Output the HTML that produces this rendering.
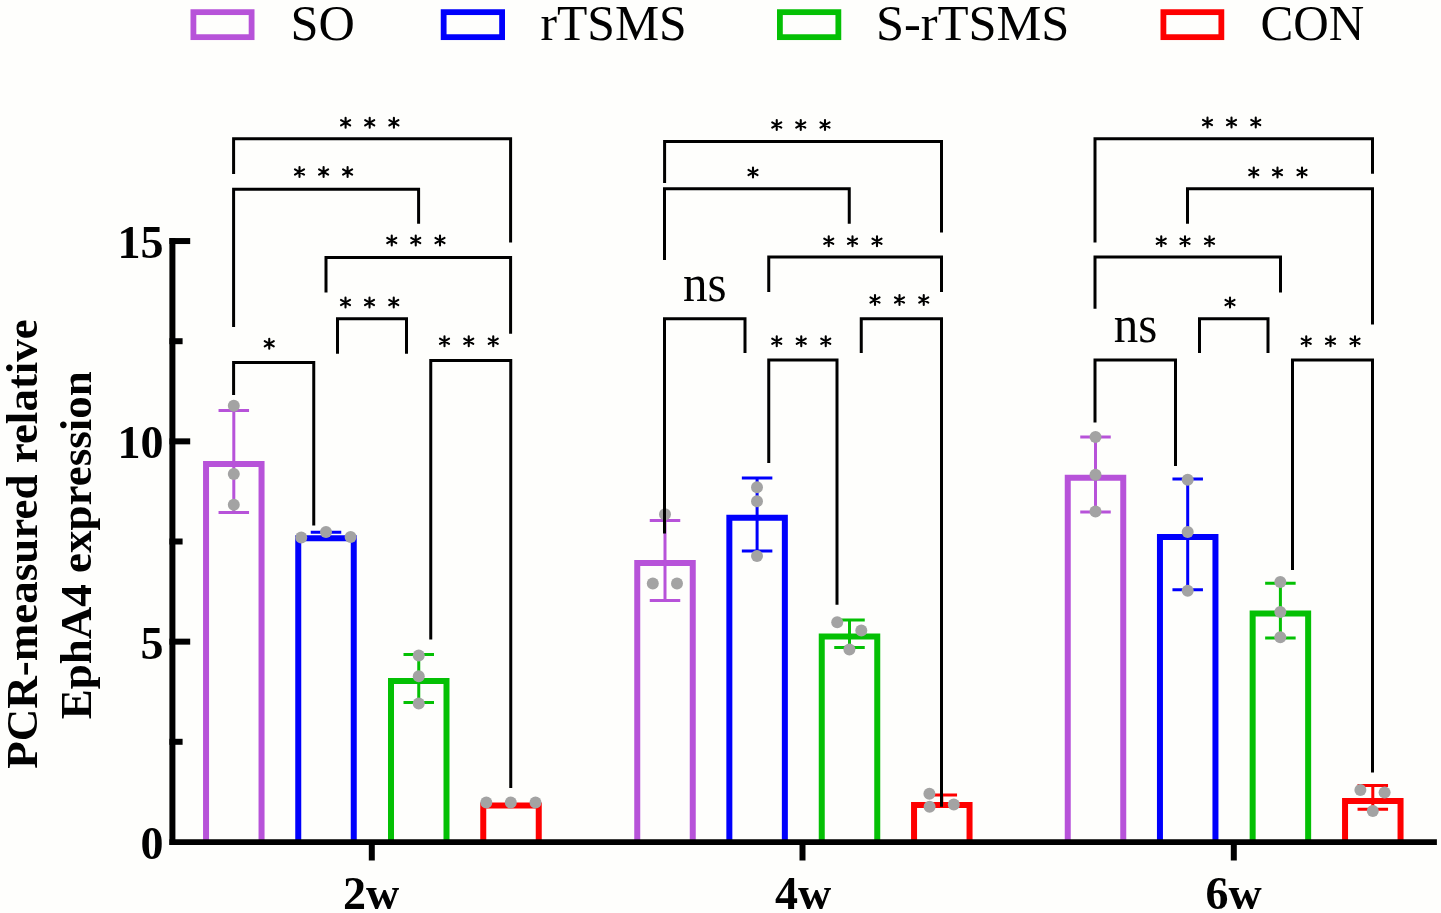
<!DOCTYPE html>
<html><head><meta charset="utf-8"><title>EphA4 expression chart</title>
<style>
html,body{margin:0;padding:0;background:#FEFEFC;}
body{width:1441px;height:913px;overflow:hidden;}
svg{display:block;}
text{font-family:"Liberation Serif",serif;fill:#000;}
</style></head>
<body>
<svg width="1441" height="913" viewBox="0 0 1441 913">
<rect x="0" y="0" width="1441" height="913" fill="#FEFEFC"/>
<g id="legend">
<rect x="193.40" y="12.15" width="58.20" height="25.0" fill="none" stroke="#B753D9" stroke-width="5.8"/>
<rect x="443.65" y="12.15" width="58.45" height="25.0" fill="none" stroke="#0000FC" stroke-width="5.8"/>
<rect x="779.90" y="12.15" width="58.45" height="25.0" fill="none" stroke="#04C004" stroke-width="5.8"/>
<rect x="1163.40" y="12.15" width="57.95" height="25.0" fill="none" stroke="#FE0000" stroke-width="5.8"/>
</g>
<g id="bars">
<path d="M206.05,842 V463.90 H261.55 V842" fill="none" stroke="#B753D9" stroke-width="6" stroke-linejoin="miter"/>
<path d="M298.25,842 V538.30 H353.75 V842" fill="none" stroke="#0000FC" stroke-width="6" stroke-linejoin="miter"/>
<path d="M391.00,842 V681.00 H446.50 V842" fill="none" stroke="#04C004" stroke-width="6" stroke-linejoin="miter"/>
<path d="M483.25,842 V805.50 H538.75 V842" fill="none" stroke="#FE0000" stroke-width="6" stroke-linejoin="miter"/>
<path d="M637.25,842 V563.10 H692.75 V842" fill="none" stroke="#B753D9" stroke-width="6" stroke-linejoin="miter"/>
<path d="M729.35,842 V517.70 H784.85 V842" fill="none" stroke="#0000FC" stroke-width="6" stroke-linejoin="miter"/>
<path d="M821.75,842 V636.40 H877.25 V842" fill="none" stroke="#04C004" stroke-width="6" stroke-linejoin="miter"/>
<path d="M914.05,842 V805.00 H969.55 V842" fill="none" stroke="#FE0000" stroke-width="6" stroke-linejoin="miter"/>
<path d="M1067.75,842 V477.80 H1123.25 V842" fill="none" stroke="#B753D9" stroke-width="6" stroke-linejoin="miter"/>
<path d="M1159.95,842 V537.00 H1215.45 V842" fill="none" stroke="#0000FC" stroke-width="6" stroke-linejoin="miter"/>
<path d="M1252.65,842 V613.40 H1308.15 V842" fill="none" stroke="#04C004" stroke-width="6" stroke-linejoin="miter"/>
<path d="M1345.05,842 V800.95 H1400.55 V842" fill="none" stroke="#FE0000" stroke-width="6" stroke-linejoin="miter"/>
</g>
<g id="errors">
<path d="M233.80,410.50 V512.50 M218.55,410.50 H249.05 M218.55,512.50 H249.05" fill="none" stroke="#B753D9" stroke-width="3"/>
<path d="M326.00,532.30 V539.50 M310.75,532.30 H341.25 M310.75,539.50 H341.25" fill="none" stroke="#0000FC" stroke-width="3"/>
<path d="M418.75,654.40 V702.50 M403.50,654.40 H434.00 M403.50,702.50 H434.00" fill="none" stroke="#04C004" stroke-width="3"/>
<path d="M665.00,520.50 V600.60 M649.75,520.50 H680.25 M649.75,600.60 H680.25" fill="none" stroke="#B753D9" stroke-width="3"/>
<path d="M757.10,478.00 V551.10 M741.85,478.00 H772.35 M741.85,551.10 H772.35" fill="none" stroke="#0000FC" stroke-width="3"/>
<path d="M849.50,620.10 V647.60 M834.25,620.10 H864.75 M834.25,647.60 H864.75" fill="none" stroke="#04C004" stroke-width="3"/>
<path d="M941.80,795.00 V805.00 M926.55,795.00 H957.05 M926.55,805.00 H957.05" fill="none" stroke="#FE0000" stroke-width="3"/>
<path d="M1095.50,437.10 V512.00 M1080.25,437.10 H1110.75 M1080.25,512.00 H1110.75" fill="none" stroke="#B753D9" stroke-width="3"/>
<path d="M1187.70,479.10 V589.70 M1172.45,479.10 H1202.95 M1172.45,589.70 H1202.95" fill="none" stroke="#0000FC" stroke-width="3"/>
<path d="M1280.40,583.30 V638.10 M1265.15,583.30 H1295.65 M1265.15,638.10 H1295.65" fill="none" stroke="#04C004" stroke-width="3"/>
<path d="M1372.80,785.60 V809.30 M1357.55,785.60 H1388.05 M1357.55,809.30 H1388.05" fill="none" stroke="#FE0000" stroke-width="3"/>
</g>
<g id="dots">
<circle cx="233.80" cy="405.80" r="6.0" fill="#A3A3A3"/>
<circle cx="233.80" cy="474.10" r="6.0" fill="#A3A3A3"/>
<circle cx="233.80" cy="504.80" r="6.0" fill="#A3A3A3"/>
<circle cx="301.25" cy="537.50" r="6.0" fill="#A3A3A3"/>
<circle cx="326.00" cy="531.90" r="6.0" fill="#A3A3A3"/>
<circle cx="350.60" cy="536.90" r="6.0" fill="#A3A3A3"/>
<circle cx="418.75" cy="655.60" r="6.0" fill="#A3A3A3"/>
<circle cx="418.75" cy="676.25" r="6.0" fill="#A3A3A3"/>
<circle cx="418.75" cy="703.50" r="6.0" fill="#A3A3A3"/>
<circle cx="486.30" cy="802.40" r="6.0" fill="#A3A3A3"/>
<circle cx="510.80" cy="802.40" r="6.0" fill="#A3A3A3"/>
<circle cx="535.50" cy="802.40" r="6.0" fill="#A3A3A3"/>
<circle cx="665.00" cy="514.30" r="6.0" fill="#A3A3A3"/>
<circle cx="652.80" cy="583.60" r="6.0" fill="#A3A3A3"/>
<circle cx="677.00" cy="583.60" r="6.0" fill="#A3A3A3"/>
<circle cx="757.00" cy="487.20" r="6.0" fill="#A3A3A3"/>
<circle cx="757.00" cy="501.20" r="6.0" fill="#A3A3A3"/>
<circle cx="757.00" cy="556.00" r="6.0" fill="#A3A3A3"/>
<circle cx="837.20" cy="622.20" r="6.0" fill="#A3A3A3"/>
<circle cx="861.30" cy="630.60" r="6.0" fill="#A3A3A3"/>
<circle cx="849.40" cy="649.40" r="6.0" fill="#A3A3A3"/>
<circle cx="929.40" cy="793.80" r="6.0" fill="#A3A3A3"/>
<circle cx="929.60" cy="806.80" r="6.0" fill="#A3A3A3"/>
<circle cx="953.80" cy="804.60" r="6.0" fill="#A3A3A3"/>
<circle cx="1095.50" cy="437.10" r="6.0" fill="#A3A3A3"/>
<circle cx="1095.50" cy="474.70" r="6.0" fill="#A3A3A3"/>
<circle cx="1095.50" cy="511.50" r="6.0" fill="#A3A3A3"/>
<circle cx="1187.70" cy="479.80" r="6.0" fill="#A3A3A3"/>
<circle cx="1187.70" cy="532.10" r="6.0" fill="#A3A3A3"/>
<circle cx="1187.70" cy="590.80" r="6.0" fill="#A3A3A3"/>
<circle cx="1280.30" cy="582.10" r="6.0" fill="#A3A3A3"/>
<circle cx="1280.30" cy="611.90" r="6.0" fill="#A3A3A3"/>
<circle cx="1280.30" cy="637.30" r="6.0" fill="#A3A3A3"/>
<circle cx="1360.40" cy="790.10" r="6.0" fill="#A3A3A3"/>
<circle cx="1384.60" cy="792.50" r="6.0" fill="#A3A3A3"/>
<circle cx="1372.80" cy="811.10" r="6.0" fill="#A3A3A3"/>
</g>
<g id="axes">
<line x1="172.40" y1="238.00" x2="172.40" y2="845.10" stroke="#000" stroke-width="6" stroke-linecap="butt"/>
<line x1="169.40" y1="641.65" x2="190.20" y2="641.65" stroke="#000" stroke-width="6" stroke-linecap="butt"/>
<line x1="169.40" y1="441.35" x2="190.20" y2="441.35" stroke="#000" stroke-width="6" stroke-linecap="butt"/>
<line x1="169.40" y1="241.05" x2="190.20" y2="241.05" stroke="#000" stroke-width="6" stroke-linecap="butt"/>
<line x1="169.40" y1="741.80" x2="182.60" y2="741.80" stroke="#000" stroke-width="6" stroke-linecap="butt"/>
<line x1="169.40" y1="541.50" x2="182.60" y2="541.50" stroke="#000" stroke-width="6" stroke-linecap="butt"/>
<line x1="169.40" y1="341.20" x2="182.60" y2="341.20" stroke="#000" stroke-width="6" stroke-linecap="butt"/>
<line x1="169.40" y1="842.20" x2="1436.90" y2="842.20" stroke="#000" stroke-width="5.8" stroke-linecap="butt"/>
<line x1="371.80" y1="842.20" x2="371.80" y2="860.50" stroke="#000" stroke-width="6" stroke-linecap="butt"/>
<line x1="802.50" y1="842.20" x2="802.50" y2="860.50" stroke="#000" stroke-width="6" stroke-linecap="butt"/>
<line x1="1233.80" y1="842.20" x2="1233.80" y2="860.50" stroke="#000" stroke-width="6" stroke-linecap="butt"/>
</g>
<g id="brackets">
<path d="M233.60,174.00 V138.75 H510.60 V242.50" fill="none" stroke="#000" stroke-width="3" stroke-linejoin="miter"/>
<path d="M233.60,327.00 V189.25 H418.60 V223.75" fill="none" stroke="#000" stroke-width="3" stroke-linejoin="miter"/>
<path d="M326.00,292.50 V257.50 H510.60 V333.75" fill="none" stroke="#000" stroke-width="3" stroke-linejoin="miter"/>
<path d="M337.50,353.75 V318.75 H406.50 V353.75" fill="none" stroke="#000" stroke-width="3" stroke-linejoin="miter"/>
<path d="M233.60,395.00 V362.50 H313.75 V525.60" fill="none" stroke="#000" stroke-width="3" stroke-linejoin="miter"/>
<path d="M430.75,639.40 V360.50 H510.75 V788.00" fill="none" stroke="#000" stroke-width="3" stroke-linejoin="miter"/>
<path d="M664.60,182.90 V141.60 H941.50 V232.50" fill="none" stroke="#000" stroke-width="3" stroke-linejoin="miter"/>
<path d="M664.50,260.00 V188.75 H849.25 V223.75" fill="none" stroke="#000" stroke-width="3" stroke-linejoin="miter"/>
<path d="M768.75,292.00 V257.00 H941.50 V292.00" fill="none" stroke="#000" stroke-width="3" stroke-linejoin="miter"/>
<path d="M664.50,533.60 V318.75 H745.00 V353.00" fill="none" stroke="#000" stroke-width="3" stroke-linejoin="miter"/>
<path d="M861.25,353.00 V318.75 H941.50 V806.80" fill="none" stroke="#000" stroke-width="3" stroke-linejoin="miter"/>
<path d="M768.75,463.00 V360.00 H837.00 V604.70" fill="none" stroke="#000" stroke-width="3" stroke-linejoin="miter"/>
<path d="M1095.00,242.50 V138.75 H1372.50 V173.75" fill="none" stroke="#000" stroke-width="3" stroke-linejoin="miter"/>
<path d="M1187.50,223.75 V188.75 H1372.50 V324.50" fill="none" stroke="#000" stroke-width="3" stroke-linejoin="miter"/>
<path d="M1095.00,308.75 V257.00 H1280.50 V292.50" fill="none" stroke="#000" stroke-width="3" stroke-linejoin="miter"/>
<path d="M1199.50,353.00 V318.75 H1268.00 V353.00" fill="none" stroke="#000" stroke-width="3" stroke-linejoin="miter"/>
<path d="M1095.00,422.50 V360.00 H1175.50 V466.00" fill="none" stroke="#000" stroke-width="3" stroke-linejoin="miter"/>
<path d="M1292.50,570.10 V360.00 H1372.50 V772.60" fill="none" stroke="#000" stroke-width="3" stroke-linejoin="miter"/>
</g>
<g id="stars" stroke="#000" stroke-width="2.1" stroke-linecap="round" fill="none">
<path d="M345.60,117.80V127.80M341.05,120.20L350.15,125.40M341.05,125.40L350.15,120.20"/>
<path d="M369.70,117.80V127.80M365.15,120.20L374.25,125.40M365.15,125.40L374.25,120.20"/>
<path d="M393.90,117.80V127.80M389.35,120.20L398.45,125.40M389.35,125.40L398.45,120.20"/>
<path d="M299.50,167.00V177.00M294.95,169.40L304.05,174.60M294.95,174.60L304.05,169.40"/>
<path d="M323.60,167.00V177.00M319.05,169.40L328.15,174.60M319.05,174.60L328.15,169.40"/>
<path d="M347.60,167.00V177.00M343.05,169.40L352.15,174.60M343.05,174.60L352.15,169.40"/>
<path d="M391.75,235.50V245.50M387.20,237.90L396.30,243.10M387.20,243.10L396.30,237.90"/>
<path d="M415.75,235.50V245.50M411.20,237.90L420.30,243.10M411.20,243.10L420.30,237.90"/>
<path d="M440.00,235.50V245.50M435.45,237.90L444.55,243.10M435.45,243.10L444.55,237.90"/>
<path d="M345.50,297.50V307.50M340.95,299.90L350.05,305.10M340.95,305.10L350.05,299.90"/>
<path d="M369.50,297.50V307.50M364.95,299.90L374.05,305.10M364.95,305.10L374.05,299.90"/>
<path d="M393.75,297.50V307.50M389.20,299.90L398.30,305.10M389.20,305.10L398.30,299.90"/>
<path d="M269.25,338.75V348.75M264.70,341.15L273.80,346.35M264.70,346.35L273.80,341.15"/>
<path d="M444.50,336.25V346.25M439.95,338.65L449.05,343.85M439.95,343.85L449.05,338.65"/>
<path d="M468.75,336.25V346.25M464.20,338.65L473.30,343.85M464.20,343.85L473.30,338.65"/>
<path d="M493.25,336.25V346.25M488.70,338.65L497.80,343.85M488.70,343.85L497.80,338.65"/>
<path d="M776.75,120.00V130.00M772.20,122.40L781.30,127.60M772.20,127.60L781.30,122.40"/>
<path d="M800.75,120.00V130.00M796.20,122.40L805.30,127.60M796.20,127.60L805.30,122.40"/>
<path d="M825.00,120.00V130.00M820.45,122.40L829.55,127.60M820.45,127.60L829.55,122.40"/>
<path d="M753.00,167.50V177.50M748.45,169.90L757.55,175.10M748.45,175.10L757.55,169.90"/>
<path d="M828.75,236.25V246.25M824.20,238.65L833.30,243.85M824.20,243.85L833.30,238.65"/>
<path d="M852.50,236.25V246.25M847.95,238.65L857.05,243.85M847.95,243.85L857.05,238.65"/>
<path d="M877.00,236.25V246.25M872.45,238.65L881.55,243.85M872.45,243.85L881.55,238.65"/>
<path d="M875.00,295.00V305.00M870.45,297.40L879.55,302.60M870.45,302.60L879.55,297.40"/>
<path d="M899.50,295.00V305.00M894.95,297.40L904.05,302.60M894.95,302.60L904.05,297.40"/>
<path d="M923.75,295.00V305.00M919.20,297.40L928.30,302.60M919.20,302.60L928.30,297.40"/>
<path d="M776.75,336.25V346.25M772.20,338.65L781.30,343.85M772.20,343.85L781.30,338.65"/>
<path d="M801.25,336.25V346.25M796.70,338.65L805.80,343.85M796.70,343.85L805.80,338.65"/>
<path d="M825.75,336.25V346.25M821.20,338.65L830.30,343.85M821.20,343.85L830.30,338.65"/>
<path d="M1207.50,117.50V127.50M1202.95,119.90L1212.05,125.10M1202.95,125.10L1212.05,119.90"/>
<path d="M1231.50,117.50V127.50M1226.95,119.90L1236.05,125.10M1226.95,125.10L1236.05,119.90"/>
<path d="M1255.75,117.50V127.50M1251.20,119.90L1260.30,125.10M1251.20,125.10L1260.30,119.90"/>
<path d="M1253.75,167.50V177.50M1249.20,169.90L1258.30,175.10M1249.20,175.10L1258.30,169.90"/>
<path d="M1277.50,167.50V177.50M1272.95,169.90L1282.05,175.10M1272.95,175.10L1282.05,169.90"/>
<path d="M1302.00,167.50V177.50M1297.45,169.90L1306.55,175.10M1297.45,175.10L1306.55,169.90"/>
<path d="M1161.25,236.25V246.25M1156.70,238.65L1165.80,243.85M1156.70,243.85L1165.80,238.65"/>
<path d="M1185.00,236.25V246.25M1180.45,238.65L1189.55,243.85M1180.45,243.85L1189.55,238.65"/>
<path d="M1209.50,236.25V246.25M1204.95,238.65L1214.05,243.85M1204.95,243.85L1214.05,238.65"/>
<path d="M1230.00,297.50V307.50M1225.45,299.90L1234.55,305.10M1225.45,305.10L1234.55,299.90"/>
<path d="M1306.25,336.25V346.25M1301.70,338.65L1310.80,343.85M1301.70,343.85L1310.80,338.65"/>
<path d="M1330.50,336.25V346.25M1325.95,338.65L1335.05,343.85M1325.95,343.85L1335.05,338.65"/>
<path d="M1355.00,336.25V346.25M1350.45,338.65L1359.55,343.85M1350.45,343.85L1359.55,338.65"/>
</g>
<g id="texts" opacity="0.999">
<text x="290.5" y="39.75" font-size="51" font-weight="normal" text-anchor="start" textLength="64.3" lengthAdjust="spacingAndGlyphs">SO</text>
<text x="540.5" y="39.75" font-size="51" font-weight="normal" text-anchor="start" textLength="146.2" lengthAdjust="spacingAndGlyphs">rTSMS</text>
<text x="876.0" y="39.75" font-size="51" font-weight="normal" text-anchor="start" textLength="193.4" lengthAdjust="spacingAndGlyphs">S-rTSMS</text>
<text x="1260.5" y="39.75" font-size="51" font-weight="normal" text-anchor="start" textLength="103.8" lengthAdjust="spacingAndGlyphs">CON</text>
<text x="682.9" y="301.0" font-size="52" font-weight="normal" text-anchor="start" textLength="43.6" lengthAdjust="spacingAndGlyphs">ns</text>
<text x="1113.8" y="342.2" font-size="52" font-weight="normal" text-anchor="start" textLength="43.6" lengthAdjust="spacingAndGlyphs">ns</text>
<text x="163.5" y="257.54999999999995" font-size="46" font-weight="bold" text-anchor="end">15</text>
<text x="163.5" y="457.85" font-size="46" font-weight="bold" text-anchor="end">10</text>
<text x="163.5" y="659.1500000000001" font-size="46" font-weight="bold" text-anchor="end">5</text>
<text x="163.5" y="859.45" font-size="46" font-weight="bold" text-anchor="end">0</text>
<text x="371.0" y="909.0" font-size="46" font-weight="bold" text-anchor="middle">2w</text>
<text x="803.0" y="909.0" font-size="46" font-weight="bold" text-anchor="middle">4w</text>
<text x="1233.5" y="909.0" font-size="46" font-weight="bold" text-anchor="middle">6w</text>
<g transform="translate(36.6,543.9) rotate(-90)"><text x="0" y="0" font-size="45" font-weight="bold" text-anchor="middle">PCR-measured relative</text></g><g transform="translate(91.2,545.3) rotate(-90)"><text x="0" y="0" font-size="45" font-weight="bold" text-anchor="middle">EphA4 expression</text></g>
</g>
</svg>
</body></html>
